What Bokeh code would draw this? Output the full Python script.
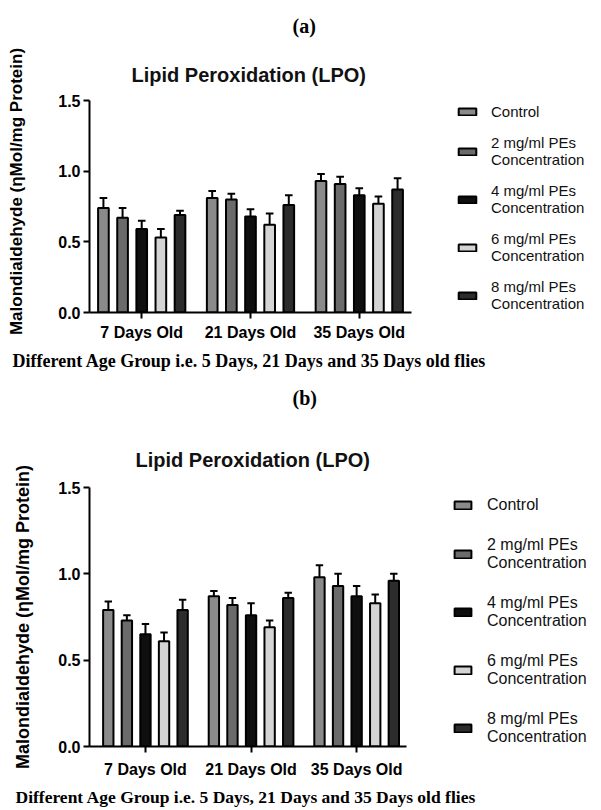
import math
from bokeh.plotting import figure
from bokeh.models import (Range1d, FixedTicker, PrintfTickFormatter, Legend, LegendItem,
                          ColumnDataSource, Title, Label)
from bokeh.layouts import column
from bokeh.embed import file_html
from bokeh.resources import INLINE

# ---------------- data ----------------
groups = ["7 Days Old", "21 Days Old", "35 Days Old"]
series = ["Control",
          "2 mg/ml PEs\nConcentration",
          "4 mg/ml PEs\nConcentration",
          "6 mg/ml PEs\nConcentration",
          "8 mg/ml PEs\nConcentration"]
colors = ["#8a8a8a", "#6b6b6b", "#0f0f0f", "#d4d4d4", "#2c2c2c"]

# panel (a)
a_control = [0.74, 0.81, 0.93]
a_2mg = [0.67, 0.80, 0.91]
a_4mg = [0.59, 0.68, 0.83]
a_6mg = [0.53, 0.62, 0.77]
a_8mg = [0.69, 0.76, 0.87]
a_err_control = [0.07, 0.05, 0.05]
a_err_2mg = [0.07, 0.04, 0.05]
a_err_4mg = [0.06, 0.05, 0.05]
a_err_6mg = [0.06, 0.08, 0.05]
a_err_8mg = [0.03, 0.07, 0.08]

# panel (b)
b_control = [0.79, 0.87, 0.98]
b_2mg = [0.73, 0.82, 0.93]
b_4mg = [0.65, 0.76, 0.87]
b_6mg = [0.61, 0.69, 0.83]
b_8mg = [0.79, 0.86, 0.96]
b_err_control = [0.05, 0.03, 0.07]
b_err_2mg = [0.03, 0.04, 0.07]
b_err_4mg = [0.06, 0.07, 0.06]
b_err_6mg = [0.05, 0.04, 0.05]
b_err_8mg = [0.06, 0.03, 0.04]

y_ticks = [0.0, 0.5, 1.0, 1.5]
caption = "Different Age Group i.e. 5 Days, 21 Days and 35 Days old flies"
title_text = "Lipid Peroxidation (LPO)"
y_label = "Malondialdehyde (\u03b7Mol/mg Protein)"
tags = ["(a)", "(b)"]

SANS = "Arial"
SERIF = "Times New Roman"


def make_panel(means, errs, H, fl, ft, fb, x0, x1, fs):
    # fl: frame left (y axis), ft/fb: canvas y of 1.5 / 0.0, x0..x1: axis extent in data
    # the frame reaches the right edge so that the legend sits inside it
    px_per_unit = (fs["axis_end"] - fl) / (x1 - x0)
    xr_end = x0 + (601 - fl) / px_per_unit
    p = figure(width=601, height=H, x_range=Range1d(x0, xr_end), y_range=Range1d(0, 1.5),
               output_backend="svg", toolbar_location=None,
               min_border_left=fl, min_border_right=0,
               min_border_top=ft, min_border_bottom=H - fb)
    p.xgrid.visible = False
    p.ygrid.visible = False
    p.outline_line_color = None

    pitch = 0.176
    bw = 0.098
    cap = 0.035
    renderers = []
    for i, (m, e) in enumerate(zip(means, errs)):
        xs = [g + (i - 2) * pitch for g in range(len(groups))]
        tops = [mi + ei for mi, ei in zip(m, e)]
        src = ColumnDataSource(dict(x=xs, top=m, etop=tops,
                                    x0=[x - cap for x in xs], x1=[x + cap for x in xs]))
        p.segment(x0="x", y0="top", x1="x", y1="etop", source=src, line_color="black", line_width=2)
        p.segment(x0="x0", y0="etop", x1="x1", y1="etop", source=src, line_color="black", line_width=2)
        r = p.vbar(x="x", top="top", bottom=0, width=bw, source=src,
                   fill_color=colors[i], line_color="black", line_width=2)
        renderers.append(r)

    for ax in (p.xaxis[0], p.yaxis[0]):
        ax.axis_line_width = 2
        ax.major_tick_line_width = 2
        ax.major_tick_out = 6
        ax.major_tick_in = 0
        ax.minor_tick_out = 0
        ax.minor_tick_in = 0
        ax.major_label_text_font = SANS
        ax.major_label_text_font_style = "bold"
        ax.major_label_text_color = "black"
    p.xaxis.major_label_text_font_size = fs["xtick"]
    p.yaxis.major_label_text_font_size = fs["ytick"]
    p.yaxis.ticker = FixedTicker(ticks=y_ticks)
    p.yaxis.formatter = PrintfTickFormatter(format="%.1f")
    p.yaxis.major_label_standoff = 3
    p.xaxis.ticker = FixedTicker(ticks=list(range(len(groups))))
    p.xaxis.major_label_overrides = {i: g for i, g in enumerate(groups)}
    p.xaxis.major_label_standoff = fs["xso"]
    p.xaxis.bounds = (x0, x1)

    if fs["ylab_mode"] == "axis":
        p.yaxis.axis_label = y_label
        p.yaxis.axis_label_text_font = SANS
        p.yaxis.axis_label_text_font_style = "bold"
        p.yaxis.axis_label_text_font_size = fs["ylab"]
        p.yaxis.axis_label_text_color = "black"
        p.yaxis.axis_label_standoff = fs["ylab_so"]
    else:
        # free label in the left border panel (panel-relative screen units)
        p.add_layout(Label(x=fs["ylab_x"], y=fb - fs["ylab_y"], x_units="screen", y_units="screen",
                           text=y_label, angle=math.pi / 2, text_align="center",
                           text_baseline="middle", text_font=SANS, text_font_style="bold",
                           text_font_size=fs["ylab"], text_color="black"), "left")

    p.add_layout(Title(text=title_text, text_font=SANS, text_font_style="bold",
                       text_font_size=fs["title"], align="left", offset=fs["title_x"] - fl,
                       standoff=fs["title_so"], text_color="#111111"), "above")
    p.add_layout(Title(text=caption, text_font=SERIF, text_font_style="bold",
                       text_font_size=fs["cap"], align="left", offset=fs["cap_x"] - fl,
                       standoff=fs["cap_so"], text_color="black"), "below")

    legend = Legend(items=[LegendItem(label=s, renderers=[r]) for s, r in zip(series, renderers)],
                    location=(fs["leg_x"] - fl, fs["leg_y"]),
                    glyph_width=fs["gw"], glyph_height=fs["gh"],
                    label_text_font=SANS, label_text_font_size=fs["leg"],
                    label_text_line_height=fs["lh"], label_text_color="#111111",
                    label_standoff=fs["ls"], spacing=fs["sp"], padding=0, margin=0,
                    border_line_alpha=0, background_fill_alpha=0)
    p.add_layout(legend)
    return p


def add_tag(p, text, fl, loc, x, so):
    p.add_layout(Title(text=text, text_font=SERIF, text_font_style="bold",
                       text_font_size="20px", align="left", offset=x - fl,
                       standoff=so, text_color="black"), loc)


fs_a = dict(axis_end=411, xtick="16px", ytick="16px", xso=5,
            title="20px", title_x=131, title_so=29,
            ylab_mode="label", ylab="17px", ylab_x=-20, ylab_y=191,
            cap="18px", cap_x=12, cap_so=10,
            leg="15px", lh=1.2, leg_x=456, leg_y=0, gw=22, gh=9, ls=13, sp=14)
fs_b = dict(axis_end=405, xtick="16px", ytick="16px", xso=8,
            title="20px", title_x=133, title_so=33,
            ylab_mode="axis", ylab="18px", ylab_so=22,
            cap="17.5px", cap_x=13, cap_so=8,
            leg="16px", lh=1.3, leg_x=450, leg_y=0, gw=21, gh=10, ls=14, sp=22)

means_a = [a_control, a_2mg, a_4mg, a_6mg, a_8mg]
errs_a = [a_err_control, a_err_2mg, a_err_4mg, a_err_6mg, a_err_8mg]
means_b = [b_control, b_2mg, b_4mg, b_6mg, b_8mg]
errs_b = [b_err_control, b_err_2mg, b_err_4mg, b_err_6mg, b_err_8mg]

p1 = make_panel(means_a, errs_a, 420, 89, 100, 312, -0.48, 2.48, fs_a)
add_tag(p1, tags[0], 89, "above", 292, 21)
add_tag(p1, tags[1], 89, "below", 292, 18)
p2 = make_panel(means_b, errs_b, 390, 87, 67, 326, -0.53, 2.47, fs_b)

layout = column(p1, p2, spacing=0)
open("out.html", "w").write(file_html(layout, INLINE))
